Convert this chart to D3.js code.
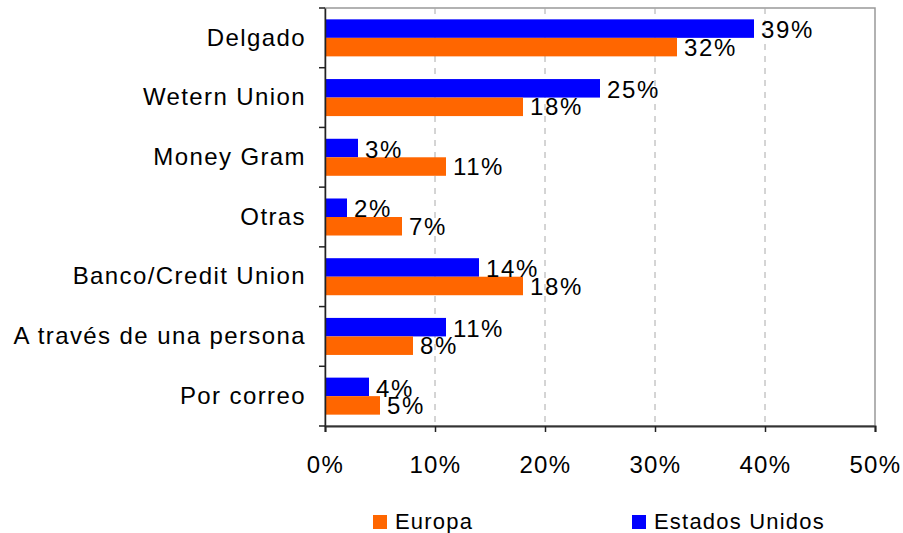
<!DOCTYPE html>
<html><head><meta charset="utf-8">
<script src="https://cdn.jsdelivr.net/npm/d3@7"></script>
<style>body{margin:0;background:#fff;}svg{display:block;font-family:"Liberation Sans",Arial,sans-serif;}</style>
</head><body><svg id="c" width="903" height="533"></svg>
<script>
const categories = ["Delgado","Wetern Union","Money Gram","Otras","Banco/Credit Union","A través de una persona","Por correo"];
const estadosUnidos = [39,25,3,2,14,11,4];
const europa = [32,18,11,7,18,8,5];
const xTicks = [0,10,20,30,40,50];
const seriesNames = ["Europa","Estados Unidos"];
const colors = {eu:"#0000ff", europa:"#ff6600"};

const svg = d3.select("#c");
const L=325,R=875,T=8,B=426;
const FS=24, LS="1.4px";
const x = d3.scaleLinear().domain([0,50]).range([L,R]);
const y = d3.scaleBand().domain(categories).range([T,B]).paddingInner(0.38).paddingOuter(0.19);

// plot border
svg.append("rect").attr("x",L).attr("y",T).attr("width",R-L).attr("height",B-T)
  .attr("fill","none").attr("stroke","#999").attr("stroke-width",1.5);
// grid
svg.selectAll(".grid").data(xTicks.slice(1,-1)).join("line")
  .attr("x1",d=>x(d)).attr("x2",d=>x(d)).attr("y1",T).attr("y2",B)
  .attr("stroke","#aaa").attr("stroke-dasharray","6,6").attr("stroke-width",1);

const bh = y.bandwidth()/2;
const g = svg.append("g");
g.selectAll(".b1").data(categories).join("rect")
  .attr("x",x(0)).attr("y",d=>y(d)).attr("width",(d,i)=>x(estadosUnidos[i])-x(0)).attr("height",bh)
  .attr("fill",colors.eu);
g.selectAll(".b2").data(categories).join("rect")
  .attr("x",x(0)).attr("y",d=>y(d)+bh).attr("width",(d,i)=>x(europa[i])-x(0)).attr("height",bh)
  .attr("fill",colors.europa);

// axes
const yAxis = d3.axisLeft(y).tickSize(0).tickPadding(19);
const ya = svg.append("g").attr("transform",`translate(${L},0)`).call(yAxis);
ya.select(".domain").attr("stroke","#222").attr("stroke-width",1.5);
ya.selectAll("text").attr("font-size",FS).attr("letter-spacing",LS).attr("fill","#000").attr("font-family","Liberation Sans, Arial, sans-serif");
// category boundary ticks
const bounds = categories.map(c=>y(c)-y.step()*y.paddingInner()/2).concat([B]);
svg.selectAll(".ytk").data(bounds).join("line")
  .attr("x1",L-6).attr("x2",L).attr("y1",d=>d).attr("y2",d=>d).attr("stroke","#222").attr("stroke-width",1.5);

const xAxis = d3.axisBottom(x).tickValues(xTicks).tickFormat(d=>d+"%").tickSize(6).tickPadding(24);
const xa = svg.append("g").attr("transform",`translate(0,${B})`).call(xAxis);
xa.select(".domain").attr("stroke","#333").attr("stroke-width",2);
xa.selectAll("line").attr("stroke","#222").attr("stroke-width",1.5);
xa.selectAll("text").attr("font-size",FS).attr("letter-spacing",LS).attr("fill","#000").attr("font-family","Liberation Sans, Arial, sans-serif");

// value labels
const lab = svg.append("g").attr("font-size",FS).attr("letter-spacing","1.6px").attr("fill","#000");
lab.selectAll(".l1").data(categories).join("text")
  .attr("x",(d,i)=>x(estadosUnidos[i])+7).attr("y",d=>y(d)+bh/2+1).attr("dy","0.36em")
  .text((d,i)=>estadosUnidos[i]+"%");
lab.selectAll(".l2").data(categories).join("text")
  .attr("x",(d,i)=>x(europa[i])+7).attr("y",d=>y(d)+bh*1.5).attr("dy","0.36em")
  .text((d,i)=>europa[i]+"%");

// legend
const legX = [373,632], legC=[colors.europa,colors.eu];
const lg = svg.selectAll(".leg").data(seriesNames).join("g").attr("transform",(d,i)=>`translate(${legX[i]},515)`);
lg.append("rect").attr("width",14).attr("height",14).attr("fill",(d,i)=>legC[i]);
lg.append("text").attr("x",22).attr("y",14).attr("font-size",22).attr("letter-spacing","1.2px").attr("fill","#000").text(d=>d);
</script></body></html>
